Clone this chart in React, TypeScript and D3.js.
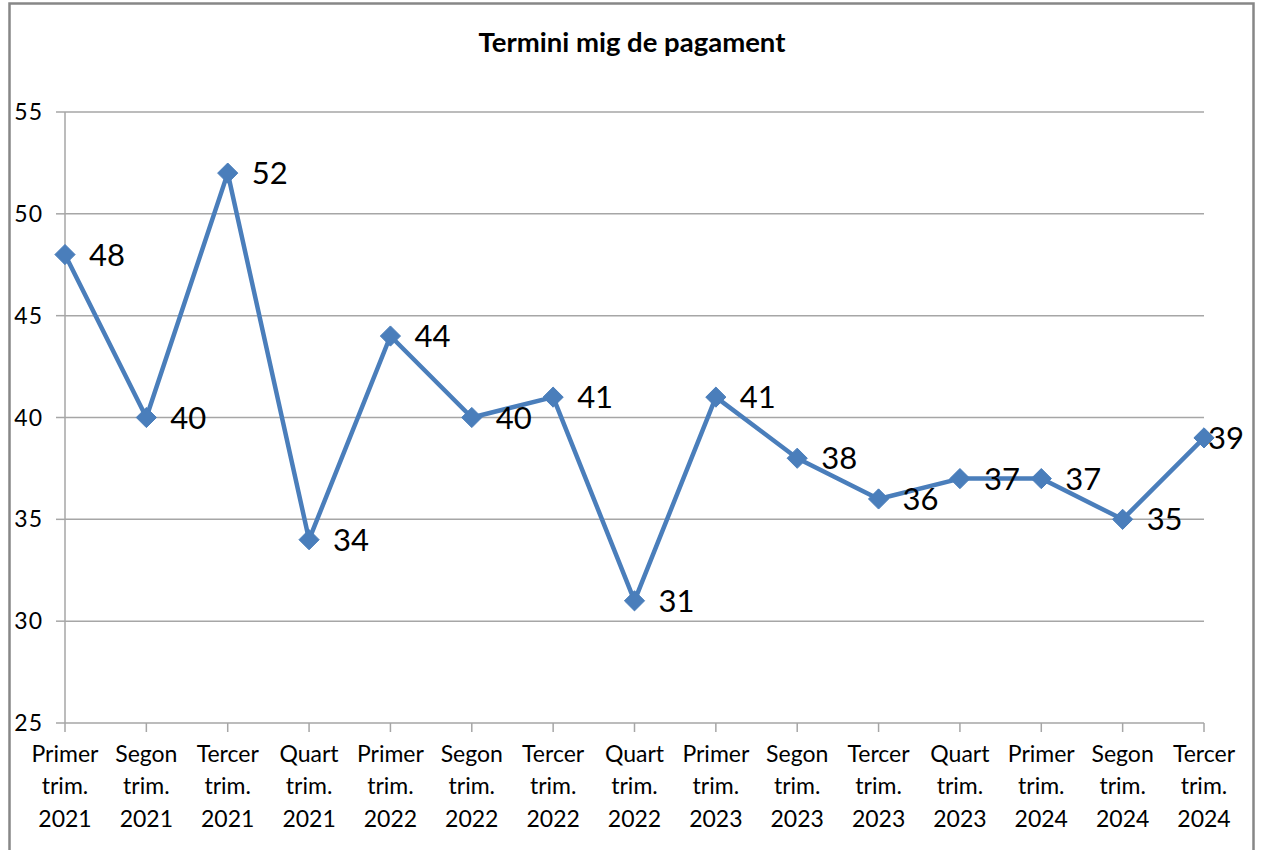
import React, { useEffect, useRef } from "react";
import * as d3 from "d3";

const quarters = ["Primer", "Segon", "Tercer", "Quart", "Primer", "Segon", "Tercer", "Quart", "Primer", "Segon", "Tercer", "Quart", "Primer", "Segon", "Tercer"];
const years = ["2021", "2021", "2021", "2021", "2022", "2022", "2022", "2022", "2023", "2023", "2023", "2023", "2024", "2024", "2024"];
const values = [48, 40, 52, 34, 44, 40, 41, 31, 41, 38, 36, 37, 37, 35, 39];
const yTicks = [25, 30, 35, 40, 45, 50, 55];
const title = "Termini mig de pagament";

const W = 1262;
const H = 850;
const FONT = "Lato, 'Open Sans', sans-serif";
const BLUE = "#4A7EBB";

export default function App() {
  const ref = useRef<SVGSVGElement>(null);

  useEffect(() => {
    const svg = d3.select(ref.current!);
    svg.selectAll("*").remove();

    const left = 65, right = 1204, top = 112, bottom = 723;
    const x = d3.scaleLinear().domain([0, values.length - 1]).range([left, right]);
    const y = d3.scaleLinear().domain([25, 55]).range([bottom, top]);

    svg.append("rect").attr("x", 0).attr("y", 0).attr("width", W).attr("height", H).attr("fill", "#fff");
    svg.append("rect").attr("x", 9.5).attr("y", 3.5).attr("width", 1244).attr("height", 860)
      .attr("fill", "none").attr("stroke", "#878787").attr("stroke-width", 2.5);

    svg.append("text").attr("x", 632).attr("y", 52).attr("text-anchor", "middle")
      .attr("font-family", FONT).attr("font-weight", "bold").attr("font-size", 27.5).attr("fill", "#000").text(title);

    // gridlines
    svg.append("g").selectAll("line").data(yTicks.filter(t => t !== 25)).join("line")
      .attr("x1", left).attr("x2", right).attr("y1", d => y(d)).attr("y2", d => y(d))
      .attr("stroke", "#a6a6a6").attr("stroke-width", 1.5);

    // y axis
    const ya = svg.append("g");
    ya.append("line").attr("x1", left).attr("x2", left).attr("y1", top).attr("y2", bottom).attr("stroke", "#a6a6a6").attr("stroke-width", 1.5);
    ya.selectAll("line.t").data(yTicks).join("line").attr("class", "t")
      .attr("x1", left - 9).attr("x2", left).attr("y1", d => y(d)).attr("y2", d => y(d))
      .attr("stroke", "#a6a6a6").attr("stroke-width", 1.5);
    ya.selectAll("text").data(yTicks).join("text")
      .attr("x", 43).attr("y", d => y(d)).attr("dy", "0.35em").attr("text-anchor", "end")
      .attr("font-family", FONT).attr("font-size", 23).attr("letter-spacing", 1).attr("fill", "#000").text(d => String(d));

    // x axis
    const xa = svg.append("g");
    xa.append("line").attr("x1", left).attr("x2", right).attr("y1", bottom).attr("y2", bottom).attr("stroke", "#a6a6a6").attr("stroke-width", 1.5);
    xa.selectAll("line.t").data(values.map((_, i) => i)).join("line").attr("class", "t")
      .attr("x1", d => x(d)).attr("x2", d => x(d)).attr("y1", bottom).attr("y2", bottom + 9)
      .attr("stroke", "#a6a6a6").attr("stroke-width", 1.5);
    const lbl = xa.selectAll("text").data(values.map((_, i) => i)).join("text")
      .attr("text-anchor", "middle").attr("font-family", FONT).attr("font-size", 23).attr("fill", "#000");
    lbl.append("tspan").attr("x", d => x(d)).attr("y", 762).text(d => quarters[d]);
    lbl.append("tspan").attr("x", d => x(d)).attr("y", 794).text("trim.");
    lbl.append("tspan").attr("x", d => x(d)).attr("y", 827).text(d => years[d]);

    // line
    const line = d3.line<number>().x((_, i) => x(i)).y(d => y(d));
    svg.append("path").datum(values).attr("d", line).attr("fill", "none")
      .attr("stroke", BLUE).attr("stroke-width", 4.5).attr("stroke-linejoin", "round");

    // markers
    svg.append("g").selectAll("path").data(values).join("path")
      .attr("d", d3.symbol(d3.symbolDiamond2, 260)())
      .attr("transform", (d, i) => `translate(${x(i)},${y(d)})`)
      .attr("fill", BLUE).attr("stroke", BLUE).attr("stroke-width", 1);

    // data labels
    svg.append("g").selectAll("text").data(values).join("text")
      .attr("x", (_, i) => x(i) + (i === values.length - 1 ? 4 : 24))
      .attr("y", d => y(d)).attr("dy", "0.36em")
      .attr("font-family", FONT).attr("font-size", 31).attr("fill", "#000").text(d => String(d));
  }, []);

  return (
    <svg ref={ref} width={W} height={H} style={{ position: "absolute", left: 0, top: 0, display: "block" }} />
  );
}
